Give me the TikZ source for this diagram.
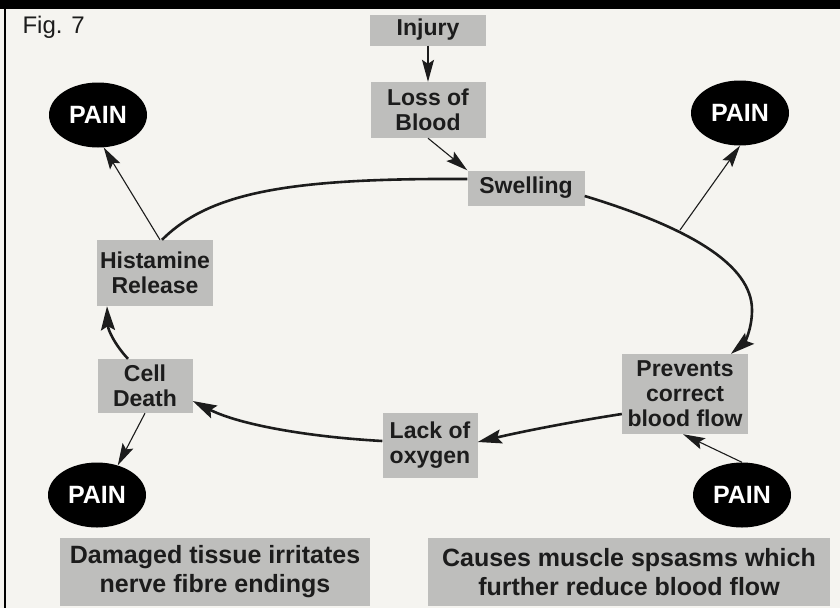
\documentclass[tikz,border=0pt]{standalone}
\usepackage{fontspec}
\setmainfont{Liberation Sans}
\usetikzlibrary{arrows.meta,shapes.geometric}
\definecolor{paper}{HTML}{F5F4F0}
\definecolor{boxgray}{HTML}{BEBEBC}
\definecolor{ink}{HTML}{1C1C1C}
\tikzset{
  box/.style={fill=boxgray, inner sep=0pt, align=center, text=ink,
    font=\bfseries\fontsize{23}{25}\selectfont},
  bigbox/.style={fill=boxgray, inner sep=0pt, align=center, text=ink,
    font=\bfseries\fontsize{25}{29}\selectfont},
  pain/.style={ellipse, fill=black, minimum width=98pt, minimum height=65pt,
    inner sep=0pt, text=white, font=\bfseries\fontsize{25}{27}\selectfont},
  cyc/.style={draw=ink, line width=2.6pt, -{Stealth[length=24pt,width=14pt,inset=4pt]}},
  cycplain/.style={draw=ink, line width=2.6pt},
  thinarrow/.style={draw=ink, line width=1.1pt, -{Stealth[length=22pt,width=12pt,inset=4pt]}}
}
\begin{document}
\begin{tikzpicture}[x=1pt,y=-1pt]
\useasboundingbox (0,0) rectangle (840,608);
\fill[paper] (0,0) rectangle (840,608);
\fill[black] (0,0) rectangle (840,9);
\draw[line width=2.5pt] (5,9) -- (5,608);
\node[anchor=west, text=ink, font=\fontsize{24}{26}\selectfont] (fig) at (19,27) {Fig. 7};

\node[box, minimum width=116pt, minimum height=31pt] (inj) at (428,30) {Injury};
\node[box, minimum width=115pt, minimum height=56pt] (loss) at (428,110) {Loss of\\Blood};
\node[box, minimum width=117pt, minimum height=35pt] (sw) at (526,188) {Swelling};
\node[box, minimum width=116pt, minimum height=66pt] (hist) at (155,273) {Histamine\\Release};
\node[box, minimum width=95pt, minimum height=54pt] (cd) at (145,386) {Cell\\Death};
\node[box, minimum width=126pt, minimum height=80pt] (pv) at (685,394) {Prevents\\correct\\blood flow};
\node[box, minimum width=95pt, minimum height=65pt] (lack) at (430,445) {Lack of\\oxygen};
\node[bigbox, minimum width=310pt, minimum height=68pt] (dam) at (215,572) {Damaged tissue irritates\\nerve fibre endings};
\node[bigbox, minimum width=402pt, minimum height=68pt] (cau) at (629,572) {Causes muscle spsasms which\\further reduce blood flow};

\node[pain] (p1) at (98,115) {PAIN};
\node[pain] (p2) at (740,113) {PAIN};
\node[pain] (p3) at (97,495) {PAIN};
\node[pain] (p4) at (742,495) {PAIN};

\coordinate (c1) at (680,230);

% cycle
\draw[cycplain] ([xshift=7pt]hist.north) .. controls (210,192) and (290,178) .. ([yshift=9pt]sw.west);
\draw[cyc] ([yshift=-8pt]sw.east) .. controls (690,228) and (752,265) .. (752,310)
  .. controls (752,330) and (744,343) .. ([xshift=46pt]pv.north);
\draw[cyc] ([yshift=-20pt]pv.west) .. controls (570,422) and (520,432) .. ([yshift=3pt]lack.east);
\draw[cyc] ([yshift=4pt]lack.west) .. controls (310,437) and (240,425) .. ([yshift=-15pt]cd.east);
\draw[cyc] ([xshift=-17pt]cd.north) .. controls (115,345) and (108,330) .. ([xshift=-48pt]hist.south);

% thin arrows
\draw[thinarrow] (inj) -- (loss);
\draw[thinarrow] (loss.south) -- (sw.north west);
\draw[thinarrow] ([xshift=5pt]hist.north) -- (p1.-80);
\draw[thinarrow] (c1) -- (p2.south);
\draw[thinarrow] (cd.south) -- (p3.55);
\draw[thinarrow] (p4.north) -- ([xshift=-2pt]pv.south);
\end{tikzpicture}
\end{document}
